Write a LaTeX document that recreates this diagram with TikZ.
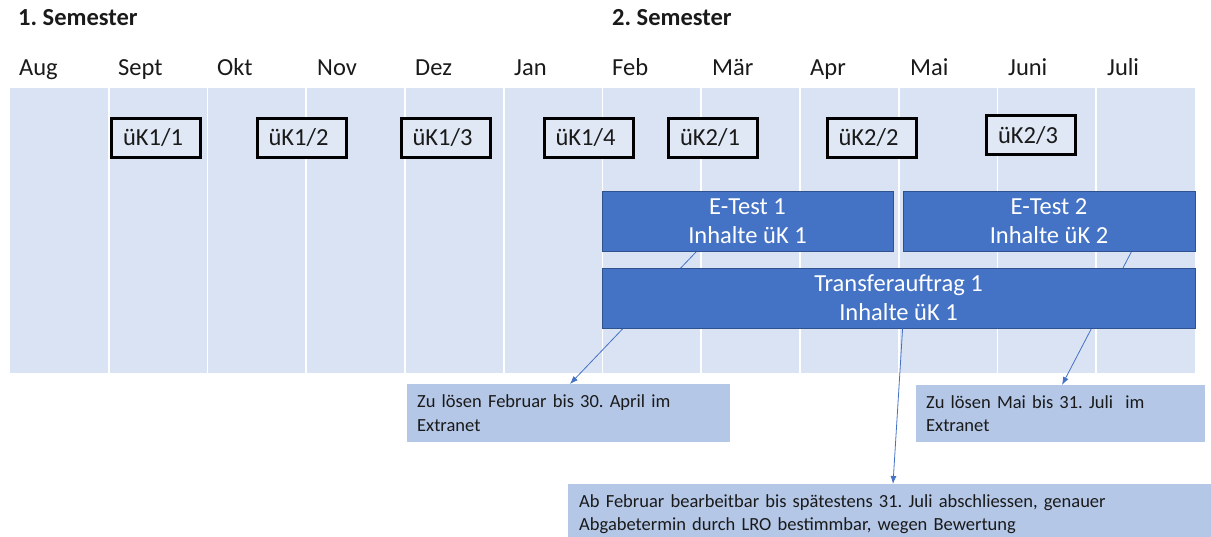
\documentclass[tikz,border=0pt]{standalone}
\usepackage{fontspec}
\setmainfont{Carlito}
\usetikzlibrary{backgrounds,arrows.meta}
\definecolor{gridbg}{HTML}{DAE3F3}
\definecolor{ukfill}{HTML}{E0E8F5}
\definecolor{barblue}{HTML}{4472C4}
\definecolor{barline}{HTML}{2F528F}
\definecolor{callfill}{HTML}{B4C7E7}
\definecolor{txt}{HTML}{1A1A1A}
\frenchspacing
\tikzset{
  month/.style={anchor=base west, inner sep=0pt, text=txt, font=\fontsize{24.5}{29}\selectfont},
  sem/.style={anchor=base west, inner sep=0pt, text=txt, font=\bfseries\fontsize{24.5}{29}\selectfont},
  ukbox/.style={draw=black, line width=3pt, fill=ukfill, minimum width=89pt, minimum height=39pt, inner sep=0pt, text=txt, font=\fontsize{24.5}{29}\selectfont},
  bar/.style={draw=barline, line width=0.8pt, fill=barblue, text=white, align=center, minimum height=60pt, inner sep=0pt, font=\fontsize{24.5}{29}\selectfont},
  callout/.style={fill=callfill, anchor=north west, align=left, inner xsep=10pt, inner ysep=6pt, text=txt, font=\fontsize{18.5}{23.5}\selectfont},
  arr/.style={draw=barblue, line width=0.8pt, -{Latex[length=8pt,width=6pt]}}
}
\begin{document}
\begin{tikzpicture}[x=1pt,y=-1pt]
\useasboundingbox (0,0) rectangle (1211,537);
% headings
\node[sem] (s1) at (18,26) {1. Semester};
\node[sem] (s2) at (612,26) {2. Semester};
% months
\node[month] (m1) at (19,76) {Aug};
\node[month] (m2) at (118,76) {Sept};
\node[month] (m3) at (217,76) {Okt};
\node[month] (m4) at (317,76) {Nov};
\node[month] (m5) at (415,76) {Dez};
\node[month] (m6) at (514,76) {Jan};
\node[month] (m7) at (612,76) {Feb};
\node[month] (m8) at (712,76) {Mär};
\node[month] (m9) at (810,76) {Apr};
\node[month] (m10) at (910,76) {Mai};
\node[month] (m11) at (1008,76) {Juni};
\node[month] (m12) at (1107,76) {Juli};
% uK boxes
\node[ukbox] (u11) at (156,138) {\hspace*{-6pt}üK1/1};
\node[ukbox] (u12) at (301.5,138) {\hspace*{-6pt}üK1/2};
\node[ukbox] (u13) at (445.5,138) {\hspace*{-6pt}üK1/3};
\node[ukbox] (u14) at (588.5,138) {\hspace*{-6pt}üK1/4};
\node[ukbox] (u21) at (713,138) {\hspace*{-6pt}üK2/1};
\node[ukbox] (u22) at (871.5,138) {\hspace*{-6pt}üK2/2};
\node[ukbox] (u23) at (1031,135.5) {\hspace*{-6pt}üK2/3};
% bars
\node[bar, minimum width=291pt] (et1) at (747.5,221) {E-Test 1\\Inhalte üK 1};
\node[bar, minimum width=292pt] (et2) at (1049,221) {E-Test 2\\Inhalte üK 2};
\node[bar, minimum width=593pt] (tr) at (898.5,298) {Transferauftrag 1\\Inhalte üK 1};
% callouts
\node[callout, text width=303pt, minimum height=58pt] (c1) at (407,384) {Zu lösen Februar bis 30. April im\\Extranet};
\node[callout, text width=269pt, minimum height=57pt] (c2) at (916,385) {Zu lösen Mai bis 31. Juli~ im\\Extranet};
\node[callout, inner xsep=11pt, text width=640pt, minimum height=60pt] (c3) at (568,484) {Ab Februar bearbeitbar bis spätestens 31. Juli abschliessen, genauer\\Abgabetermin durch LRO bestimmbar, wegen Bewertung};
\begin{scope}[on background layer]
  \fill[gridbg] (10,88) rectangle (1195,373);
  \foreach \x in {108.75,207.5,306.25,405,503.75,602.5,701.25,800,898.75,997.5,1096.25}
    \draw[white, line width=1.6pt] (\x,88) -- (\x,373);
  \draw[arr] ([xshift=95pt]et1.south west) -- ([xshift=163pt]c1.north west);
  \draw[arr] ([xshift=229pt]et2.south west) -- ([xshift=146pt]c2.north west);
\end{scope}
\draw[arr] ([xshift=301pt]tr.south west) -- ([xshift=325pt]c3.north west);
\end{tikzpicture}
\end{document}
